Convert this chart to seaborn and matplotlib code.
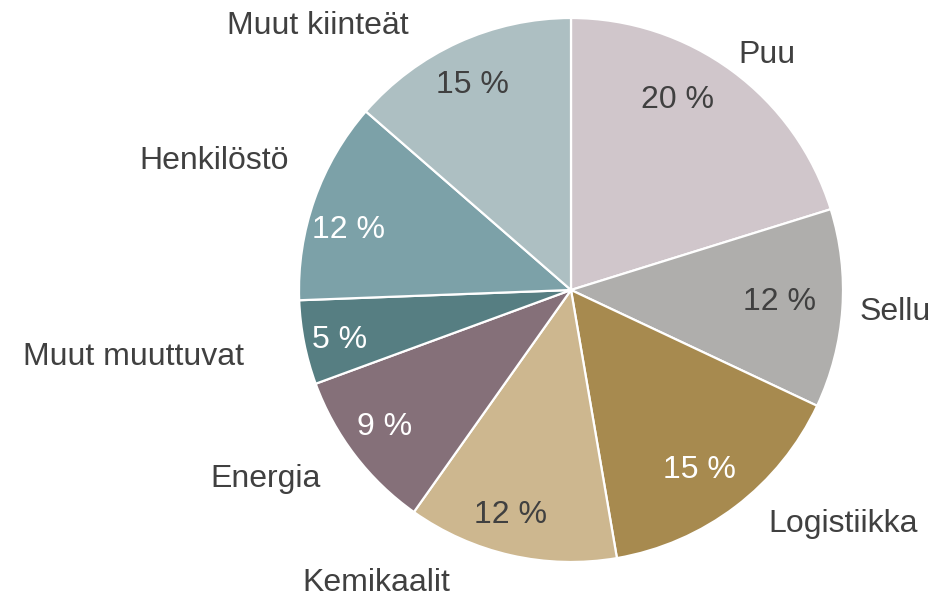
import numpy as np
import matplotlib
matplotlib.use('Agg')
import matplotlib.pyplot as plt
import seaborn as sns

sns.set_theme(style='white')
plt.rcParams['font.family'] = ['Liberation Sans', 'DejaVu Sans']

categories = ['Puu', 'Sellu', 'Logistiikka', 'Kemikaalit', 'Energia',
              'Muut muuttuvat', 'Henkilöstö', 'Muut kiinteät']
# wedge sizes as measured from the slice angles
shares = [20.2, 11.8, 15.3, 12.5, 9.6, 5.0, 12.0, 13.6]
# percentage labels as printed on the chart
pct_labels = ['20 %', '12 %', '15 %', '12 %', '9 %', '5 %', '12 %', '15 %']
colors = ['#D0C6CB', '#AFAEAC', '#A78A4F', '#CDB78F', '#857079',
          '#567E82', '#7CA1A8', '#ADBFC2']
pct_colors = ['#404040', '#404040', 'white', '#404040', 'white',
              'white', 'white', '#404040']

# label placement in pixels of the 946x599 image (pie centre 571,290, r 272)
cx, cy, rad = 571, 290, 272
label_px = [(767, 55), (895, 312), (843, 524), (376, 583), (266, 479),
            (133, 357), (214, 161), (318, 26)]
pct_px = [(677, 100), (779, 302), (699, 470), (510, 515), (385, 427),
          (340, 340), (348, 230), (472, 85)]

fig = plt.figure(figsize=(9.46, 5.99), dpi=100)
ax = fig.add_axes([0, 0, 1, 1])

wedges, texts = ax.pie(
    shares, labels=categories, colors=colors, startangle=90,
    counterclock=False,
    wedgeprops=dict(edgecolor='white', linewidth=1.6),
    textprops=dict(fontsize=23, color='#404040'))

for t, (px, py) in zip(texts, label_px):
    t.set_position(((px - cx) / rad, (cy - py) / rad))
    t.set_ha('center')
    t.set_va('center')

for lab, (px, py), c in zip(pct_labels, pct_px, pct_colors):
    ax.text((px - cx) / rad, (cy - py) / rad, lab, color=c, fontsize=23,
            ha='center', va='center')

ax.set_xlim(-cx / rad, (946 - cx) / rad)
ax.set_ylim(-(599 - cy) / rad, cy / rad)
ax.set_aspect('equal')
ax.axis('off')

fig.savefig('out.png', dpi=100)
